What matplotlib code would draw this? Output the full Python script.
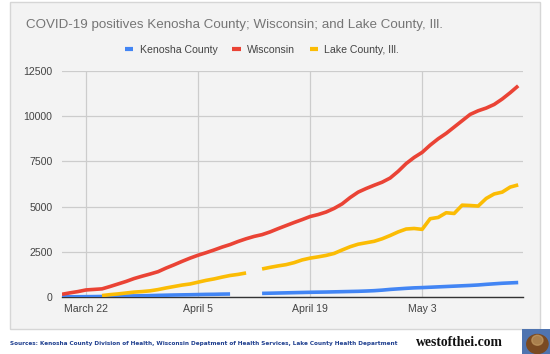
import numpy as np
import pandas as pd
import matplotlib
matplotlib.use("Agg")
import matplotlib.pyplot as plt
from matplotlib.patches import Rectangle, Circle

dates = pd.date_range("2020-03-19", periods=58, freq="D")
nan = np.nan

wisconsin = [150, 230, 300, 390, 420, 450, 580, 720, 860, 1020,
             1150, 1270, 1400, 1600, 1780, 1970, 2150, 2310, 2450, 2600,
             2760, 2900, 3070, 3220, 3350, 3450, 3600, 3780, 3950, 4120,
             4280, 4450, 4560, 4700, 4900, 5150, 5500, 5800, 6000, 6180,
             6350, 6580, 6950, 7380, 7720, 8000, 8400, 8750, 9050, 9400,
             9750, 10100, 10300, 10450, 10650, 10950, 11300, 11680]

kenosha = [10, 12, 14, 18, 22, 28, 35, 45, 52, 60,
           68, 78, 90, 100, 110, 118, 125, 135, 145, 150,
           160, 165, nan, nan, nan, 200, 210, 220, 230, 240,
           250, 260, 268, 275, 285, 295, 305, 315, 330, 350,
           380, 420, 450, 480, 505, 520, 540, 560, 580, 600,
           620, 640, 665, 700, 730, 760, 780, 800]

lake = [nan, nan, nan, nan, nan, 80, 130, 170, 220, 270,
        300, 340, 410, 500, 580, 660, 720, 820, 920, 1000,
        1100, 1190, 1250, 1330, nan, 1550, 1640, 1720, 1790, 1900,
        2050, 2150, 2220, 2300, 2410, 2600, 2780, 2920, 3000, 3080,
        3220, 3400, 3600, 3760, 3790, 3740, 4330, 4400, 4660, 4620,
        5080, 5060, 5030, 5450, 5700, 5800, 6080, 6200]

series_names = ["Kenosha County", "Wisconsin", "Lake County, Ill."]
series_colors = ["#4285F4", "#EA4335", "#FBBC04"]
tick_dates = pd.to_datetime(["2020-03-22", "2020-04-05", "2020-04-19", "2020-05-03"])
tick_labels = ["March 22", "April 5", "April 19", "May 3"]
y_ticks = [0, 2500, 5000, 7500, 10000, 12500]

W, H = 550, 354
fig = plt.figure(figsize=(W / 100, H / 100), dpi=100)
fig.patch.set_facecolor("white")

def fx(px):
    return px / W

def fy(py):
    return 1 - py / H

# panel
fig.patches.append(Rectangle((fx(10), fy(329)), fx(540) - fx(10), fy(2) - fy(329),
                             transform=fig.transFigure, facecolor="#f3f3f3",
                             edgecolor="#d6d6d6", linewidth=1.0, zorder=-5))

ax = fig.add_axes([fx(62), fy(297), fx(523) - fx(62), fy(71) - fy(297)])
ax.set_zorder(2)
ax.set_facecolor("none")

for vals, name, col in zip([kenosha, wisconsin, lake], series_names, series_colors):
    ax.plot(dates, vals, color=col, lw=2.6, label=name, solid_capstyle="butt",
            solid_joinstyle="round", zorder=3)

ax.set_ylim(0, 12500)
x0 = dates[0]
ax.set_xlim(x0, x0 + pd.Timedelta(days=57.6))
ax.set_yticks(y_ticks)
ax.set_yticklabels([str(v) for v in y_ticks])
ax.set_xticks(tick_dates)
ax.set_xticklabels(tick_labels)
ax.grid(True, color="#cccccc", lw=0.9)
ax.set_axisbelow(True)
for s in ["top", "right", "left"]:
    ax.spines[s].set_visible(False)
ax.spines["bottom"].set_color("#333333")
ax.spines["bottom"].set_linewidth(1.0)
ax.tick_params(length=0, labelsize=7.6, labelcolor="#444444", pad=5)
ax.tick_params(axis="y", pad=7)

fig.text(fx(26), fy(25), "COVID-19 positives Kenosha County; Wisconsin; and Lake County, Ill.",
         fontsize=9.6, color="#757575", family="Liberation Sans", va="center", ha="left")

leg = fig.legend(loc="center", bbox_to_anchor=(fx(262), fy(50)), ncol=3, frameon=False,
                 handlelength=0.8, handletextpad=0.6, columnspacing=1.4,
                 prop={"family": "Liberation Sans", "size": 7.6})
for t in leg.get_texts():
    t.set_color("#444444")
for l in leg.get_lines():
    l.set_linewidth(3)

for lab in ax.get_xticklabels() + ax.get_yticklabels():
    lab.set_family("Liberation Sans")

fig.text(fx(10), fy(343),
         "Sources: Kenosha County Division of Health, Wisconsin Depatment of Health Services, Lake County Health Department",
         fontsize=4.15, color="#1f3f8f", fontweight="bold", family="DejaVu Sans", va="center", ha="left")
fig.text(fx(416), fy(343), "westofthei.com", fontsize=9.8, color="#111111", fontweight="bold",
         family="Liberation Serif", va="center", ha="left")

lax = fig.add_axes([fx(522), fy(354), fx(550) - fx(522), fy(329) - fy(354)])
lax.set_xlim(0, 1)
lax.set_ylim(0, 1)
lax.set_facecolor("#4f74b0")
lax.add_patch(Circle((0.55, 0.4), 0.38, color="#7a4a22"))
lax.add_patch(Circle((0.55, 0.55), 0.2, color="#c9a36a", alpha=0.6))
lax.set_xticks([])
lax.set_yticks([])
for s in lax.spines.values():
    s.set_visible(False)

fig.savefig("out.png", dpi=100, facecolor="white")
